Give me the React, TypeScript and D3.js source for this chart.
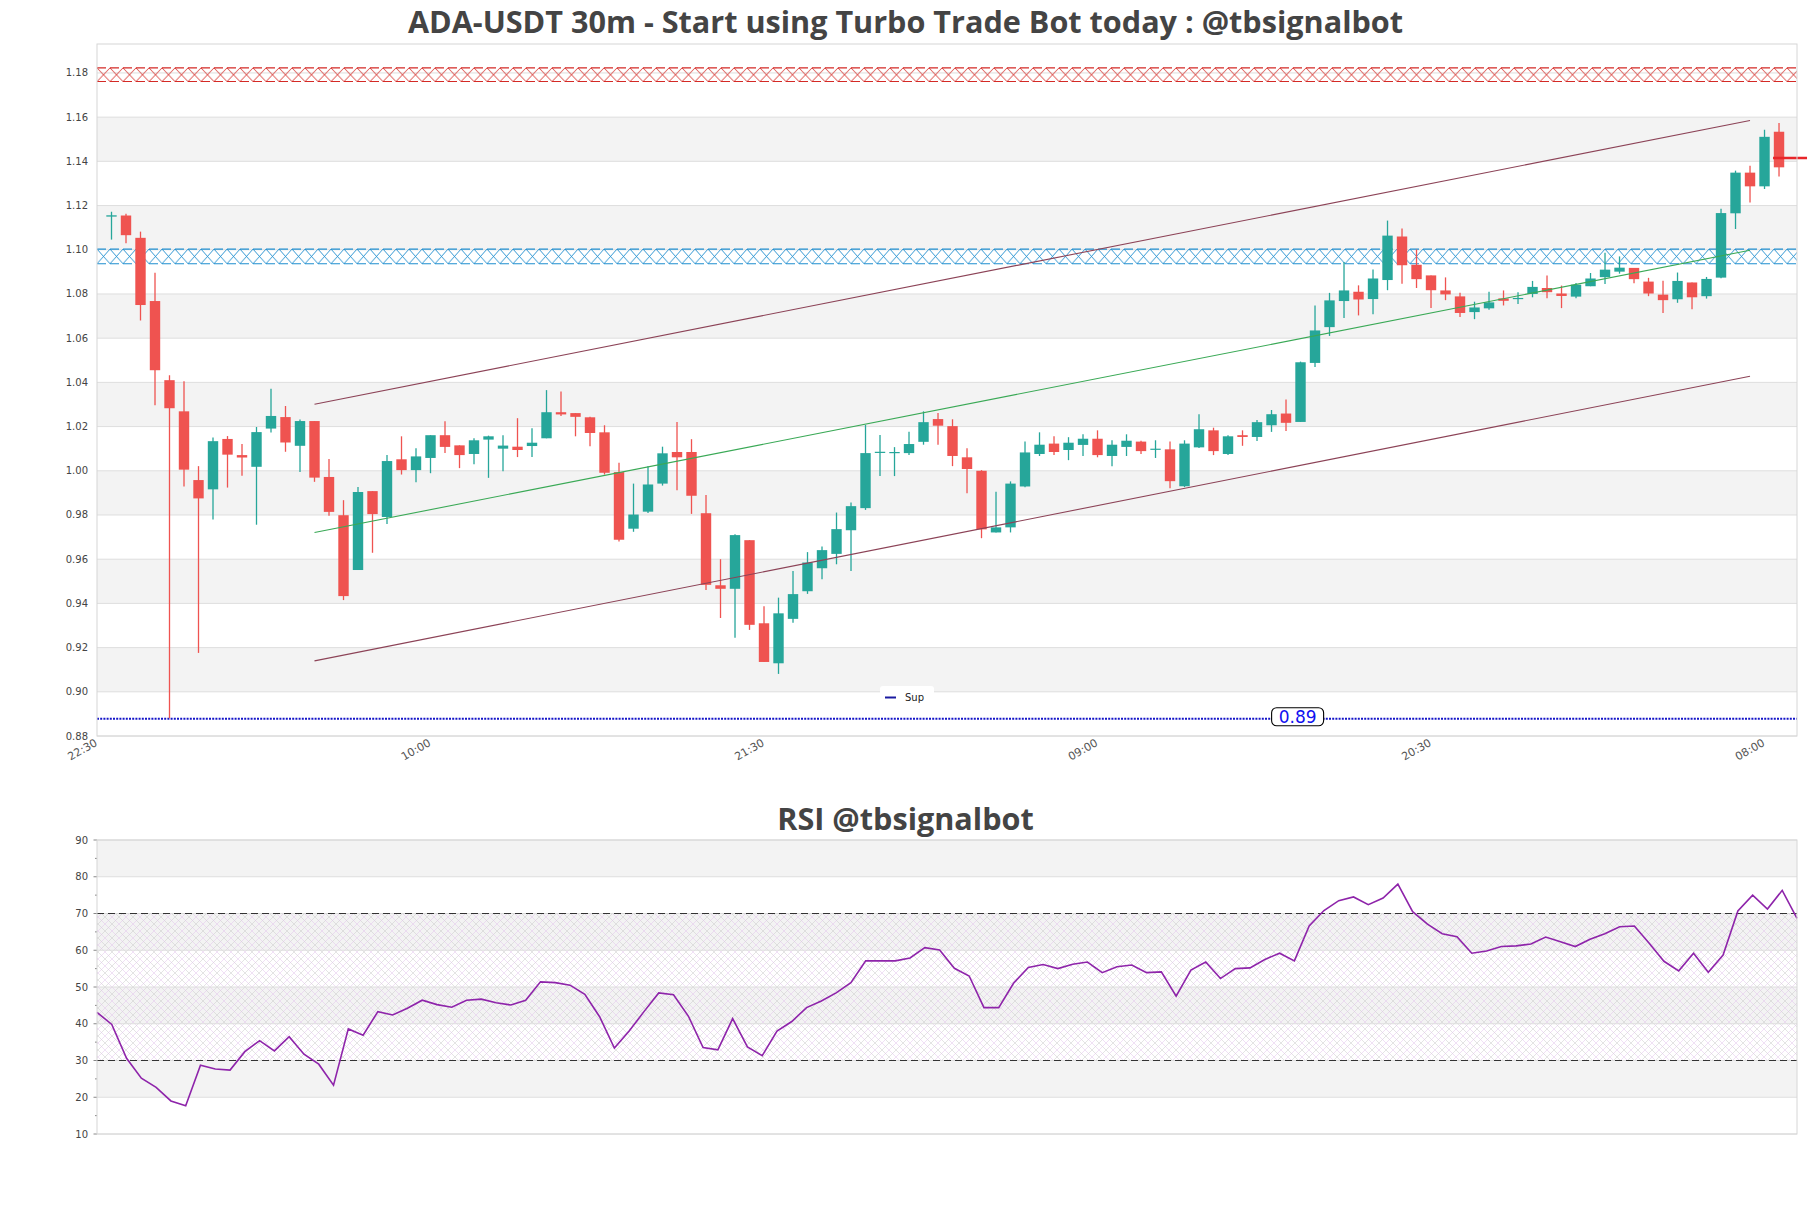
import React from 'react'
import * as d3 from 'd3'

// 30m candles, index 0 = 23:00 of the first day
const opens = [
  1.1150, 1.1155, 1.1054, 1.0768, 1.0410, 1.0269, 0.9958, 0.9916, 1.0144, 1.0071,
  1.0018, 1.0191, 1.0243, 1.0113, 1.0225, 0.9972, 0.9799, 0.9551, 0.9908, 0.9791,
  1.0052, 1.0003, 1.0058, 1.0161, 1.0115, 1.0076, 1.0141, 1.0100, 1.0109, 1.0112,
  1.0147, 1.0265, 1.0261, 1.0242, 1.0174, 0.9994, 0.9738, 0.9815, 0.9942, 1.0085,
  1.0085, 0.9808, 0.9482, 0.9466, 0.9686, 0.9310, 0.9129, 0.9330, 0.9455, 0.9559,
  0.9624, 0.9731, 0.9831, 1.0083, 1.0083, 1.0080, 1.0131, 1.0234, 1.0202, 1.0061,
  1.0000, 0.9721, 0.9744, 0.9929, 1.0076, 1.0123, 1.0094, 1.0117, 1.0145, 1.0067,
  1.0108, 1.0132, 1.0095, 1.0097, 0.9930, 1.0106, 1.0183, 1.0076, 1.0161, 1.0153,
  1.0206, 1.0259, 1.0221, 1.0488, 1.0650, 1.0768, 1.0810, 1.0777, 1.0863, 1.1060,
  1.0932, 1.0884, 1.0816, 1.0789, 1.0718, 1.0735, 1.0780, 1.0778, 1.0800, 1.0827,
  1.0802, 1.0788, 1.0835, 1.0876, 1.0901, 1.0918, 1.0856, 1.0797, 1.0776, 1.0852,
  1.0790, 1.0874, 1.1165, 1.1349, 1.1287, 1.1534,
]
const highs = [
  1.1172, 1.1163, 1.1082, 1.0896, 1.0432, 1.0405, 1.0021, 1.0151, 1.0157, 1.0121,
  1.0198, 1.0371, 1.0293, 1.0232, 1.0225, 1.0053, 0.9867, 0.9927, 0.9908, 1.0071,
  1.0156, 1.0102, 1.0161, 1.0224, 1.0115, 1.0147, 1.0159, 1.0161, 1.0238, 1.0192,
  1.0365, 1.0359, 1.0261, 1.0245, 1.0206, 1.0036, 0.9942, 1.0021, 1.0109, 1.0221,
  1.0143, 0.9890, 0.9600, 0.9713, 0.9686, 0.9387, 0.9426, 0.9546, 0.9632, 0.9657,
  0.9811, 0.9857, 1.0207, 1.0162, 1.0107, 1.0177, 1.0269, 1.0261, 1.0233, 1.0102,
  1.0003, 0.9905, 0.9952, 1.0133, 1.0174, 1.0156, 1.0152, 1.0165, 1.0183, 1.0138,
  1.0165, 1.0136, 1.0138, 1.0132, 1.0138, 1.0256, 1.0195, 1.0161, 1.0183, 1.0230,
  1.0275, 1.0323, 1.0494, 1.0748, 1.0805, 1.0945, 1.0839, 1.0911, 1.1132, 1.1096,
  1.1001, 1.0884, 1.0875, 1.0805, 1.0765, 1.0810, 1.0816, 1.0808, 1.0859, 1.0883,
  1.0838, 1.0850, 1.0895, 1.0986, 1.0970, 1.0918, 1.0873, 1.0860, 1.0897, 1.0852,
  1.0877, 1.1186, 1.1358, 1.1380, 1.1543, 1.1573,
]
const lows = [
  1.1046, 1.1030, 1.0680, 1.0296, 0.8880, 0.9929, 0.9176, 0.9780, 0.9924, 0.9978,
  0.9756, 1.0173, 1.0086, 0.9994, 0.9950, 0.9796, 0.9415, 0.9551, 0.9629, 0.9759,
  0.9983, 0.9948, 0.9989, 1.0080, 1.0012, 1.0030, 0.9968, 0.9998, 1.0062, 1.0062,
  1.0147, 1.0248, 1.0156, 1.0111, 0.9983, 0.9680, 0.9724, 0.9809, 0.9933, 0.9912,
  0.9805, 0.9461, 0.9334, 0.9244, 0.9280, 0.9135, 0.9081, 0.9312, 0.9443, 0.9509,
  0.9577, 0.9546, 0.9823, 0.9976, 0.9976, 1.0071, 1.0118, 1.0118, 1.0021, 0.9898,
  0.9695, 0.9721, 0.9721, 0.9926, 1.0067, 1.0071, 1.0048, 1.0067, 1.0061, 1.0021,
  1.0067, 1.0076, 1.0058, 0.9921, 0.9926, 1.0103, 1.0071, 1.0071, 1.0113, 1.0135,
  1.0176, 1.0180, 1.0221, 1.0470, 1.0610, 1.0691, 1.0703, 1.0708, 1.0817, 1.0846,
  1.0827, 1.0736, 1.0772, 1.0696, 1.0686, 1.0729, 1.0748, 1.0755, 1.0785, 1.0781,
  1.0736, 1.0781, 1.0835, 1.0845, 1.0892, 1.0849, 1.0790, 1.0714, 1.0760, 1.0731,
  1.0779, 1.0871, 1.1094, 1.1214, 1.1275, 1.1332,
]
const closes = [
  1.1156, 1.1066, 1.0750, 1.0455, 1.0283, 1.0005, 0.9875, 1.0134, 1.0073, 1.0060,
  1.0175, 1.0248, 1.0128, 1.0225, 0.9969, 0.9814, 0.9433, 0.9904, 0.9804, 1.0044,
  1.0003, 1.0065, 1.0161, 1.0108, 1.0071, 1.0138, 1.0156, 1.0114, 1.0094, 1.0127,
  1.0265, 1.0255, 1.0244, 1.0171, 0.9991, 0.9688, 0.9802, 0.9938, 1.0079, 1.0061,
  0.9887, 0.9484, 0.9466, 0.9709, 0.9303, 0.9135, 0.9355, 0.9442, 0.9585, 0.9641,
  0.9736, 0.9840, 1.0080, 1.0086, 1.0085, 1.0121, 1.0220, 1.0204, 1.0067, 1.0008,
  0.9735, 0.9744, 0.9942, 1.0083, 1.0118, 1.0085, 1.0127, 1.0145, 1.0071, 1.0118,
  1.0136, 1.0089, 1.0100, 0.9953, 1.0123, 1.0188, 1.0089, 1.0156, 1.0153, 1.0220,
  1.0256, 1.0217, 1.0491, 1.0635, 1.0771, 1.0816, 1.0775, 1.0870, 1.1064, 1.0930,
  1.0867, 1.0817, 1.0798, 1.0714, 1.0739, 1.0762, 1.0769, 1.0782, 1.0832, 1.0808,
  1.0791, 1.0842, 1.0870, 1.0910, 1.0919, 1.0867, 1.0802, 1.0772, 1.0859, 1.0785,
  1.0868, 1.1166, 1.1349, 1.1287, 1.1511, 1.1373,
]
const rsi = [
  43.1, 39.8, 30.6, 25.2, 22.7, 19.0, 17.7, 28.7, 27.7, 27.4,
  32.4, 35.4, 32.6, 36.5, 31.7, 29.0, 23.3, 38.6, 36.9, 43.3,
  42.4, 44.2, 46.4, 45.2, 44.5, 46.4, 46.7, 45.7, 45.1, 46.4,
  51.4, 51.2, 50.5, 48.0, 41.9, 33.4, 38.0, 43.3, 48.4, 47.9,
  42.1, 33.5, 32.9, 41.4, 33.7, 31.3, 38.0, 40.6, 44.4, 46.2,
  48.4, 51.2, 57.1, 57.1, 57.1, 57.9, 60.7, 60.1, 55.1, 53.0,
  44.4, 44.4, 51.0, 55.3, 56.1, 55.0, 56.2, 56.8, 53.9, 55.5,
  56.0, 53.9, 54.1, 47.5, 54.6, 56.8, 52.3, 55.0, 55.2, 57.5,
  59.2, 57.1, 66.6, 70.8, 73.5, 74.5, 72.4, 74.2, 78.0, 70.5,
  67.1, 64.5, 63.7, 59.2, 59.8, 61.0, 61.2, 61.7, 63.6, 62.3,
  61.0, 63.0, 64.5, 66.4, 66.6, 61.9, 57.0, 54.4, 59.2, 54.0,
  58.7, 70.7, 75.0, 71.2, 76.3, 68.7,
]

const priceTicks = [0.88, 0.90, 0.92, 0.94, 0.96, 0.98, 1.00, 1.02, 1.04, 1.06, 1.08, 1.10, 1.12, 1.14, 1.16, 1.18]
const rsiTicks = [10, 20, 30, 40, 50, 60, 70, 80, 90]
const timeTickIdx = [-1, 22, 45, 68, 91, 114]
const timeTickLabels = ['22:30', '10:00', '21:30', '09:00', '20:30', '08:00']

const resistZone = [1.1761, 1.1823]
const supportZone = [1.0937, 1.1003]
const supLevel = 0.8878
const supLabel = '0.89'
const supLabelIdx = 81.8
const lastPrice = 1.1415

const channelIdx = [14, 113]
const channelUpper = [1.0301, 1.1585]
const channelMid = [0.9721, 1.0998]
const channelLower = [0.914, 1.0428]
const rsiBounds = [30, 70]

const W = 1811
const H = 1208
const M = { left: 97, right: 1797, top: 44, bottom: 736 }
const R = { top: 840, bottom: 1134 }
const GREEN = '#26a69a'
const RED = '#ef5350'
const FONT = 'DejaVu Sans, sans-serif'
const TITLE_FONT = 'Open Sans, sans-serif'

export default function App() {
  const x = d3.scaleLinear().domain([-1, 116.24]).range([M.left, M.right])
  const y = d3.scaleLinear().domain([0.88, 1.1931]).range([M.bottom, M.top])
  const xr = d3.scaleLinear().domain([0, rsi.length - 1]).range([M.left, M.right])
  const yr = d3.scaleLinear().domain([10, 90]).range([R.bottom, R.top])

  const rsiPath = d3.line<number>().x((_, i) => xr(i)).y(d => yr(d))(rsi) || ''
  const bodyW = 10.4

  const zone = (z: number[], id: string, color: string) => {
    const top = y(z[1])
    const bot = y(z[0])
    const h = bot - top
    return (
      <g key={id}>
        <defs>
          <pattern id={id} patternUnits="userSpaceOnUse" x={M.left} y={top} width={13} height={h}>
            <path d={`M0,0L13,${h}M13,0L0,${h}`} stroke={color} strokeWidth={0.9} fill="none" />
          </pattern>
        </defs>
        <rect x={M.left} y={top} width={M.right - M.left} height={h} fill={`url(#${id})`} />
        <line x1={M.left} x2={M.right} y1={top} y2={top} stroke={color} strokeWidth={1.1} strokeDasharray="9 4" />
        <line x1={M.left} x2={M.right} y1={bot} y2={bot} stroke={color} strokeWidth={1.1} strokeDasharray="9 4" />
      </g>
    )
  }

  const channel = (vals: number[], color: string, key: string) => (
    <line key={key} x1={x(channelIdx[0])} x2={x(channelIdx[1])} y1={y(vals[0])} y2={y(vals[1])}
      stroke={color} strokeWidth={1.1} />
  )

  const supX = x(supLabelIdx)

  return (
    <svg width={W} height={H} style={{ position: 'absolute', left: 0, top: 0, background: '#fff' }}
      fontFamily={FONT}>
      <defs>
        <pattern id="rsiHatch" patternUnits="userSpaceOnUse" width={14} height={14}>
          <path d="M0,0L14,14M14,0L0,14" stroke="#c8c8c8" strokeWidth={0.5} />
          <path d="M7,0L14,7M0,7L7,14M7,0L0,7M14,7L7,14" stroke="#e0c2ea" strokeWidth={0.5} />
        </pattern>
        <clipPath id="mainClip">
          <rect x={M.left} y={M.top} width={M.right - M.left} height={M.bottom - M.top} />
        </clipPath>
      </defs>

      {/* titles */}
      <text x={W / 2} y={33} textAnchor="middle" fontFamily={TITLE_FONT} fontWeight={700}
        fontSize={30.6} fill="#444">ADA-USDT 30m - Start using Turbo Trade Bot today : @tbsignalbot</text>
      <text x={W / 2} y={830} textAnchor="middle" fontFamily={TITLE_FONT} fontWeight={700}
        fontSize={30.6} fill="#444">RSI @tbsignalbot</text>

      {/* main panel background */}
      {priceTicks.map((t, i) => (i % 2 === 1 && i < priceTicks.length - 1) ? (
        <rect key={'b' + t} x={M.left} y={y(t + 0.02)} width={M.right - M.left} height={y(t) - y(t + 0.02)} fill="#f3f3f3" />
      ) : null)}
      {priceTicks.map(t => (
        <line key={'g' + t} x1={M.left} x2={M.right} y1={y(t)} y2={y(t)} stroke="#dedede" strokeWidth={1} />
      ))}
      {priceTicks.map(t => (
        <text key={'l' + t} x={88} y={y(t)} dy="0.35em" textAnchor="end" fontSize={10} fill="#444">{t.toFixed(2)}</text>
      ))}

      <g clipPath="url(#mainClip)">
        {zone(resistZone, 'hatchRed', '#d42a26')}
        {zone(supportZone, 'hatchBlue', '#1f8ecf')}
        <line x1={M.left} x2={M.right} y1={y(supLevel)} y2={y(supLevel)} stroke="#1414c8" strokeWidth={2} strokeDasharray="2 1.2" />
      </g>

      {/* candles */}
      {opens.map((o, i) => {
        const c = closes[i]
        const col = c >= o ? GREEN : RED
        const cx = x(i)
        const top = y(Math.max(o, c))
        const h = Math.max(1.2, y(Math.min(o, c)) - top)
        return (
          <g key={'c' + i}>
            <line x1={cx} x2={cx} y1={y(highs[i])} y2={y(lows[i])} stroke={col} strokeWidth={1.3} />
            <rect x={cx - bodyW / 2} y={top} width={bodyW} height={h} fill={col} />
          </g>
        )
      })}

      {channel(channelUpper, '#8c4357', 'up')}
      {channel(channelMid, '#3aa956', 'mid')}
      {channel(channelLower, '#8c4357', 'lo')}

      {/* last price marker */}
      <line x1={x(opens.length - 1) - 6} x2={x(opens.length - 1) + 28} y1={y(lastPrice)} y2={y(lastPrice)} stroke="#e8262a" strokeWidth={2.5} />

      {/* sup label */}
      <rect x={supX - 26} y={y(supLevel) - 11} width={52} height={18} rx={5} fill="#fff" stroke="#000" strokeWidth={1.1} />
      <text x={supX} y={y(supLevel) + 4.5} textAnchor="middle" fontSize={17} fill="#1010f0">{supLabel}</text>

      {/* legend */}
      <rect x={880} y={686} width={54} height={20} rx={3} fill="#fff" />
      <line x1={885} x2={896} y1={697.5} y2={697.5} stroke="#1a1aa0" strokeWidth={2} />
      <text x={905} y={697.5} dy="0.35em" fontSize={10} fill="#222">Sup</text>

      <rect x={M.left} y={M.top} width={M.right - M.left} height={M.bottom - M.top} fill="none" stroke="#d6d6d6" />

      {/* time axis */}
      {timeTickIdx.map((t, i) => (
        <text key={'t' + t} transform={`translate(${x(t) + 1},${745}) rotate(-30)`} textAnchor="end" fontSize={11} fill="#555">
          {timeTickLabels[i]}
        </text>
      ))}

      {/* RSI panel */}
      {rsiTicks.map((t, i) => (i % 2 === 1) ? (
        <rect key={'rb' + t} x={M.left} y={yr(t + 10)} width={M.right - M.left} height={yr(t) - yr(t + 10)} fill="#f3f3f3" />
      ) : null)}
      <rect x={M.left} y={yr(rsiBounds[1])} width={M.right - M.left} height={yr(rsiBounds[0]) - yr(rsiBounds[1])} fill="url(#rsiHatch)" />
      {rsiTicks.map(t => (
        <g key={'rg' + t}>
          <line x1={M.left} x2={M.right} y1={yr(t)} y2={yr(t)} stroke="#dedede" />
          <line x1={M.left - 3.5} x2={M.left} y1={yr(t)} y2={yr(t)} stroke="#888" />
          <text x={88} y={yr(t)} dy="0.35em" textAnchor="end" fontSize={10} fill="#444">{t}</text>
        </g>
      ))}
      {rsiTicks.slice(0, -1).map(t => (
        <line key={'rm' + t} x1={M.left - 2} x2={M.left} y1={yr(t + 5)} y2={yr(t + 5)} stroke="#888" />
      ))}
      {rsiBounds.map(b => (
        <line key={'rd' + b} x1={M.left} x2={M.right} y1={yr(b)} y2={yr(b)} stroke="#333" strokeWidth={1.2} strokeDasharray="7 4" />
      ))}
      <path d={rsiPath} fill="none" stroke="#8e24aa" strokeWidth={1.6} />
      <rect x={M.left} y={R.top} width={M.right - M.left} height={R.bottom - R.top} fill="none" stroke="#d6d6d6" />
    </svg>
  )
}
